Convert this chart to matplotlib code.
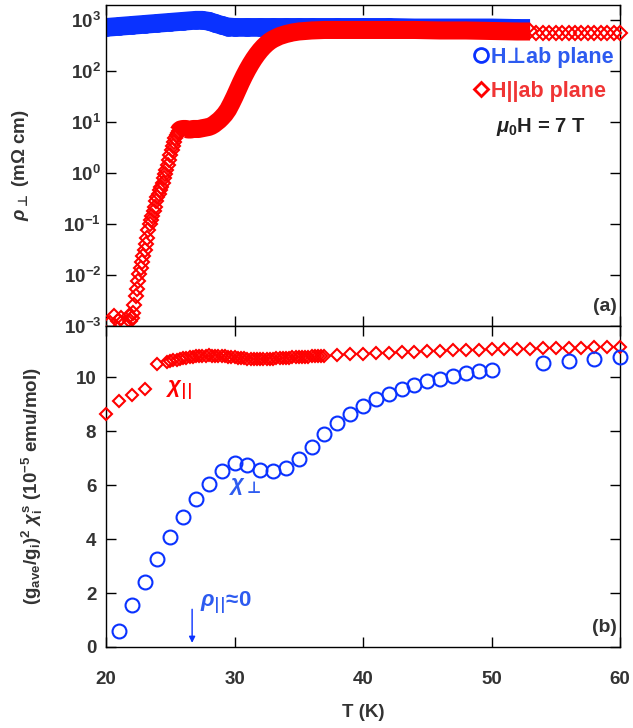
import numpy as np
import matplotlib
matplotlib.use('Agg')
from matplotlib import pyplot as plt
from matplotlib.lines import Line2D
from matplotlib.ticker import NullLocator

# ========= 数据 ======= #
# (a) 电阻率, H 垂直 ab 面 (log10 rho)
rho_perp_T = [20, 21, 22, 23, 24, 25, 26, 27, 27.5, 28, 28.5, 29, 29.5, 30, 31, 32, 33, 34,
              35, 36, 38, 40, 42, 44, 46, 48, 50, 52, 53]
rho_perp_log = [2.85, 2.87, 2.89, 2.91, 2.93, 2.95, 2.97, 2.99, 2.99, 2.97, 2.93, 2.89, 2.86,
                2.85, 2.85, 2.85, 2.85, 2.85, 2.85, 2.85, 2.85, 2.85, 2.85, 2.84, 2.84, 2.84,
                2.84, 2.83, 2.83]

# (a) 电阻率, H 平行 ab 面: 低温散点
rho_par_low_T = [20.3, 20.6, 20.9, 21.2, 21.5, 21.8]
rho_par_low_log = [-2.95, -2.8, -2.9, -2.85, -2.95, -2.8]
# 陡升段
rho_par_rise_T = [21.9, 22.0, 22.1, 22.2, 22.3, 22.4, 22.5, 22.6, 22.7, 22.8, 22.9, 23.0, 23.1,
                  23.2, 23.3, 23.4, 23.5, 23.6, 23.7, 23.8, 23.9, 24.0, 24.1, 24.2, 24.3, 24.4,
                  24.5, 24.6, 24.7, 24.8, 24.9, 25.0, 25.1, 25.2, 25.3, 25.4, 25.5]
rho_par_rise_log = [-2.9, -2.85, -2.75, -2.58, -2.42, -2.27, -2.12, -1.98, -1.86, -1.74, -1.63,
                    -1.52, -1.40, -1.27, -1.12, -1.0, -0.92, -0.84, -0.75, -0.66, -0.56, -0.48,
                    -0.41, -0.34, -0.27, -0.19, -0.11, -0.03, 0.06, 0.15, 0.25, 0.35, 0.45,
                    0.53, 0.61, 0.68, 0.74]
# 平台及之后
rho_par_T = [25.6, 25.7, 25.8, 26.0, 26.2, 26.4, 26.6, 26.8, 27.0, 27.2, 27.4, 27.6, 27.8,
             28.0, 28.2, 28.4, 28.6, 28.8, 29.0, 29.25, 29.5, 29.75, 30.0, 30.25, 30.5, 30.75,
             31.0, 31.25, 31.5, 31.75, 32.0, 32.25, 32.5, 32.75, 33.0, 33.5, 34.0, 34.5, 35,
             36, 37, 38, 40, 42, 44, 46, 48, 50, 52, 53]
rho_par_log = [0.79, 0.83, 0.85, 0.86, 0.86, 0.85, 0.85, 0.86, 0.86, 0.86, 0.87, 0.88, 0.89,
               0.9, 0.92, 0.95, 0.99, 1.03, 1.08, 1.15, 1.24, 1.36, 1.49, 1.63, 1.77, 1.9,
               2.02, 2.13, 2.23, 2.32, 2.4, 2.47, 2.53, 2.58, 2.62, 2.68, 2.72, 2.75, 2.77,
               2.79, 2.8, 2.8, 2.8, 2.8, 2.8, 2.79, 2.79, 2.78, 2.77, 2.77]
# 高温稀疏点
rho_par_tail_T = [53.5, 54, 54.5, 55, 55.5, 56, 56.5, 57, 57.5, 58, 58.5, 59, 59.5, 60]
rho_par_tail_log = [2.75, 2.75, 2.745, 2.745, 2.745, 2.745, 2.745, 2.74, 2.745, 2.745, 2.74,
                    2.745, 2.74, 2.74]

# (b) 磁化率
chi_perp_T = [21, 22, 23, 24, 25, 26, 27, 28, 29, 30, 31, 32, 33, 34, 35, 36, 37, 38, 39, 40,
              41, 42, 43, 44, 45, 46, 47, 48, 49, 50, 54, 56, 58, 60]
chi_perp = [0.6, 1.54, 2.42, 3.25, 4.06, 4.8, 5.47, 6.04, 6.53, 6.83, 6.76, 6.56, 6.52, 6.62,
            6.95, 7.42, 7.89, 8.3, 8.65, 8.95, 9.18, 9.38, 9.56, 9.7, 9.85, 9.93, 10.05, 10.14,
            10.22, 10.28, 10.53, 10.59, 10.67, 10.73]

chi_par_T = [20, 21, 22, 23, 24,
             24.75, 25.0, 25.25, 25.5, 25.75, 26.0, 26.25, 26.5, 26.75, 27.0, 27.25, 27.5,
             27.75, 28.0, 28.25, 28.5, 28.75, 29.0, 29.25, 29.5, 29.75, 30.0, 30.25, 30.5,
             30.75, 31.0, 31.25, 31.5, 31.75, 32.0, 32.25, 32.5, 32.75, 33.0, 33.25, 33.5,
             33.75, 34.0, 34.25, 34.5, 34.75, 35.0, 35.25, 35.5, 35.75, 36.0, 36.25, 36.5,
             36.75, 37.0,
             38, 39, 40, 41, 42, 43, 44, 45, 46, 47, 48, 49, 50, 51, 52, 53, 54, 55, 56, 57,
             58, 59, 60]
chi_par = [8.65, 9.12, 9.33, 9.58, 10.5,
           10.55, 10.6, 10.62, 10.65, 10.68, 10.7, 10.72, 10.74, 10.76, 10.78, 10.79, 10.8,
           10.8, 10.81, 10.8, 10.8, 10.79, 10.78, 10.77, 10.76, 10.75, 10.74, 10.72, 10.71,
           10.7, 10.69, 10.68, 10.68, 10.67, 10.67, 10.67, 10.68, 10.68, 10.69, 10.7, 10.7,
           10.71, 10.72, 10.72, 10.73, 10.74, 10.75, 10.75, 10.76, 10.76, 10.77, 10.77, 10.78,
           10.78, 10.79,
           10.82, 10.85, 10.87, 10.89, 10.91, 10.93, 10.95, 10.96, 10.98, 10.99, 11.0, 11.02,
           11.03, 11.04, 11.05, 11.06, 11.07, 11.08, 11.09, 11.1, 11.11, 11.12, 11.13]

BLUE = '#0a32ff'
RED = '#ff0000'
BLUE_TXT = '#2d5bf0'
RED_TXT = '#f03535'
GRAY = '#333333'

# ========= 字体 ======= #
plt.rcParams['font.family'] = ['Liberation Sans', 'DejaVu Sans']
plt.rcParams['font.weight'] = 'bold'
plt.rcParams['axes.labelweight'] = 'bold'
plt.rcParams['font.size'] = 13
plt.rcParams['mathtext.fontset'] = 'custom'
plt.rcParams['mathtext.rm'] = 'Liberation Sans:bold'
plt.rcParams['mathtext.bf'] = 'Liberation Sans:bold'
plt.rcParams['mathtext.it'] = 'Liberation Sans:italic'
plt.rcParams['mathtext.sf'] = 'DejaVu Sans'   # 用于 ⊥ 和 || 符号
plt.rcParams['axes.unicode_minus'] = False

fig = plt.figure(figsize=(6.33, 7.28), dpi=100)
ax1 = fig.add_axes([0.1675, 0.5522, 0.812, 0.441])
ax2 = fig.add_axes([0.1675, 0.1113, 0.812, 0.441])

# ========= (a) ======= #
ax1.plot(rho_perp_T, 10 ** np.array(rho_perp_log), color=BLUE, lw=13.5,
         solid_capstyle='butt', zorder=2)
ax1.plot(rho_perp_T[:-1], 10 ** np.array(rho_perp_log[:-1]), ls='none', marker='o', ms=12,
         mfc='none', mec=BLUE, mew=1.5, zorder=2)

ax1.plot(rho_par_low_T, 10 ** np.array(rho_par_low_log), ls='none', marker='D', ms=7.5,
         mfc='none', mec=RED, mew=1.5, zorder=3)
ax1.plot(rho_par_rise_T, 10 ** np.array(rho_par_rise_log), ls='none', marker='D', ms=7.5,
         mfc='none', mec=RED, mew=1.5, zorder=3)
ax1.plot(rho_par_T, 10 ** np.array(rho_par_log), color=RED, lw=13,
         solid_capstyle='butt', zorder=3)
ax1.plot(rho_par_T, 10 ** np.array(rho_par_log), ls='none', marker='D', ms=7.5,
         mfc='none', mec=RED, mew=1.5, zorder=3)
ax1.plot(rho_par_tail_T, 10 ** np.array(rho_par_tail_log), ls='none', marker='D', ms=7.5,
         mfc='none', mec=RED, mew=1.5, zorder=3, clip_on=False)

ax1.set_yscale('log')
ax1.set_xlim(20, 60)
ax1.set_ylim(1e-3, 10 ** 3.29)
ax1.set_yticks([1e-3, 1e-2, 1e-1, 1e0, 1e1, 1e2, 1e3])
ax1.yaxis.set_minor_locator(NullLocator())
ax1.set_xticks([20, 30, 40, 50, 60])
ax1.tick_params(direction='in', top=True, right=True, labelbottom=False,
                length=7, width=1, labelcolor=GRAY, labelsize=13.5)
ax1.set_ylabel(r'$\rho_{\mathsf{\bot}}$ (m$\Omega$ cm)', color=GRAY, fontsize=13.5)
ax1.yaxis.set_label_coords(-0.145, 0.5)

handles = [Line2D([], [], ls='none', marker='o', ms=10, mfc='none', mec=BLUE, mew=2),
           Line2D([], [], ls='none', marker='D', ms=7, mfc='none', mec=RED, mew=2)]
ax1.legend(handles, ['H\u22a5ab plane', 'H||ab plane'], loc='upper right',
           bbox_to_anchor=(1.012, 0.91), frameon=False, handlelength=0.8, handletextpad=0.05,
           labelspacing=0.6, borderaxespad=0.2, labelcolor=[BLUE_TXT, RED_TXT],
           prop={'weight': 'bold', 'size': 15.5})
ax1.text(0.932, 0.62, r'$\mu_{0}$H = 7 T', transform=ax1.transAxes, ha='right',
         va='center', color='#222222', fontsize=14.5)
ax1.text(0.994, 0.06, '(a)', transform=ax1.transAxes, ha='right', va='center',
         color=GRAY, fontsize=14)

# ========= (b) ======= #
ax2.plot(chi_par_T, chi_par, ls='none', marker='D', ms=6, mfc='none', mec=RED, mew=1.5,
         clip_on=False, zorder=3)
ax2.plot(chi_perp_T, chi_perp, ls='none', marker='o', ms=10, mfc='none', mec=BLUE, mew=1.5,
         clip_on=False, zorder=3)

ax2.set_xlim(20, 60)
ax2.set_ylim(0, 11.9)
ax2.set_xticks([20, 30, 40, 50, 60])
ax2.set_yticks([0, 2, 4, 6, 8, 10])
ax2.tick_params(direction='in', top=True, right=True, length=7, width=1,
                labelcolor=GRAY, labelsize=13.5)
ax2.tick_params(axis='x', pad=17)
ax2.tick_params(axis='y', pad=7)
ax2.set_xlabel('T (K)', color=GRAY, fontsize=13.5, labelpad=12)
ax2.set_ylabel(r'(g$_{\mathrm{ave}}$/g$_{\mathrm{i}}$)$^{\mathrm{2}}$ $\chi_{\mathrm{i}}^{\mathrm{s}}$'
               r' (10$^{\mathrm{-5}}$ emu/mol)', color=GRAY, fontsize=13.5)
ax2.yaxis.set_label_coords(-0.118, 0.5)

ax2.text(25.7, 9.5, r'$\chi_{\mathsf{||}}$', color=RED, fontsize=16, ha='center', va='center')
ax2.text(30.8, 5.95, r'$\chi_{\mathsf{\bot}}$', color=BLUE_TXT, fontsize=16, ha='center',
         va='center')
ax2.text(27.3, 1.6, r'$\rho_{\mathsf{||}}$≈0', color=BLUE_TXT, fontsize=16, ha='left',
         va='center')
ax2.annotate('', xy=(26.7, 0.05), xytext=(26.7, 1.5),
             arrowprops=dict(arrowstyle='-|>', color=BLUE, lw=1, mutation_scale=9))
ax2.text(0.994, 0.06, '(b)', transform=ax2.transAxes, ha='right', va='center',
         color=GRAY, fontsize=14)

for ax in (ax1, ax2):
    for s in ax.spines.values():
        s.set_linewidth(1.0)

plt.savefig('out.png', dpi=100)
